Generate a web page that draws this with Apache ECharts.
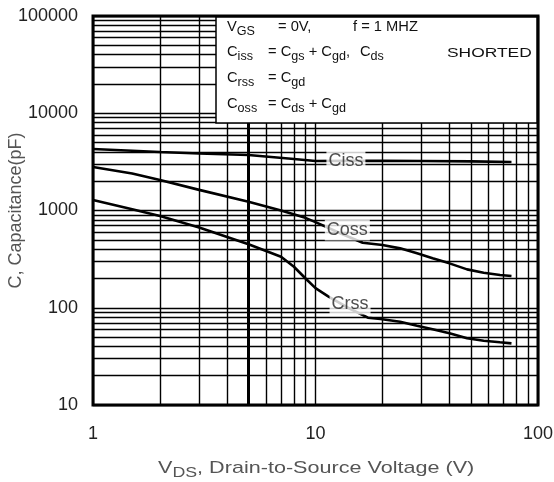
<!DOCTYPE html>
<html>
<head>
<meta charset="utf-8">
<script src="https://cdn.jsdelivr.net/npm/echarts@6/dist/echarts.min.js"></script>
<style>html,body{margin:0;padding:0;background:#fff}#c{width:554px;height:482px}</style>
</head>
<body>
<div id="c"></div>
<script>
// ---- data ----
const xMinorGrid = [2, 3, 4, 6, 7, 8, 9, 20, 30, 40, 50, 60, 70, 80, 90];
const xBoldGrid = [5];
const yMinorGrid = [20, 30, 40, 50, 60, 70, 80, 90,
  200, 300, 400, 500, 600, 700, 800, 900,
  2000, 3000, 4000, 5000, 6000, 7000, 8000, 9000,
  20000, 30000, 40000, 50000, 60000, 70000, 80000, 90000];

const cissV = [1, 1.5, 2, 3, 5, 8, 10, 14, 20, 30, 50, 76];
const cissC = [4290, 4120, 4000, 3850, 3720, 3390, 3230, 3240, 3250, 3230, 3200, 3150];

const cossV = [1, 1.5, 2, 3, 5, 7, 9, 10, 13, 16.3, 20, 24, 28.6, 33.6, 40, 48, 57, 67.5, 76];
const cossC = [2800, 2400, 2060, 1630, 1230, 1000, 840, 760, 580, 466, 441, 408, 363, 322, 286, 248, 229, 217, 212];

const crssV = [1, 1.5, 2, 3, 5, 7, 8, 9, 10, 11.4, 14, 17.2, 19.6, 24, 28.6, 33.6, 40, 48, 57, 67.5, 76];
const crssC = [1280, 1030, 880, 670, 450, 335, 264, 201, 159, 131, 100, 79, 76.6, 71.9, 65.4, 60, 54.6, 48.5, 45.8, 44.1, 43];

const curveNames = ['Ciss', 'Coss', 'Crss'];
const labelV = [13.7, 13.9, 14.3];
const labelC = [3230, 630, 109];

const yAxisTitle = 'C, Capacitance(pF)';
const xAxisTitle = '{m|V}{s|DS}{m|, Drain-to-Source Voltage (V)}';
const boxTexts = [
  ['{m|V}{s|GS}', '{m|= 0V,}', '{m|f = 1 MHZ}'],
  ['{m|C}{s|iss}', '{m|= C}{s|gs}{m| + C}{s|gd}{m|,}', '{m|C}{s|ds}', 'SHORTED'],
  ['{m|C}{s|rss}', '{m|= C}{s|gd}'],
  ['{m|C}{s|oss}', '{m|= C}{s|ds}{m| + C}{s|gd}']
];

// ---- chart ----
const zip = (a, b) => a.map((v, i) => [v, b[i]]);
const chart = echarts.init(document.getElementById('c'), null, {renderer: 'canvas'});

const boxRich = {
  m: {fontSize: 14, fontFamily: 'Liberation Sans', color: '#111'},
  s: {fontSize: 12, fontFamily: 'Liberation Sans', color: '#111', padding: [10, 0, 0, 0]}
};
const colX = [[227, 278, 353], [227, 268, 360, 447], [227, 268], [227, 268]];
const rowY = [27, 52, 78, 104];
const boxChildren = [{
  type: 'rect', z: 100, shape: {x: 216, y: 17, width: 321, height: 106},
  style: {fill: '#fff', stroke: '#000', lineWidth: 1.5}
}];
boxTexts.forEach((row, r) => {
  row.forEach((t, c) => {
    const isPlain = t.indexOf('{') < 0;
    boxChildren.push({
      type: 'text', z: 101,
      x: colX[r][c], y: rowY[r] + (isPlain ? 2 : 0),
      scaleX: isPlain ? 1.45 : 1.05,
      style: isPlain
        ? {text: t, fontSize: 12, fontFamily: 'Liberation Sans', fill: '#111', verticalAlign: 'middle'}
        : {text: t, rich: boxRich, fontSize: 14, fontFamily: 'Liberation Sans', fill: '#111', verticalAlign: 'middle'}
    });
  });
});

const option = {
  animation: false,
  backgroundColor: '#fff',
  grid: {left: 93, right: 16, top: 16, bottom: 77, containLabel: false, outerBoundsMode: 'none',
    show: true, borderColor: '#000', borderWidth: 3, backgroundColor: 'transparent'},
  xAxis: {
    type: 'log', logBase: 10, min: 1, max: 100,
    axisLine: {show: false}, axisTick: {show: false},
    axisLabel: {fontSize: 18, fontFamily: 'Liberation Sans', color: '#222', margin: 20, formatter: v => String(v)},
    splitLine: {show: true, lineStyle: {color: '#000', width: 1.4}}
  },
  yAxis: {
    type: 'log', logBase: 10, min: 10, max: 100000,
    axisLine: {show: false}, axisTick: {show: false},
    axisLabel: {fontSize: 18, fontFamily: 'Liberation Sans', color: '#222', margin: 15, formatter: v => String(v)},
    splitLine: {show: true, lineStyle: {color: '#000', width: 1.4}},
    name: yAxisTitle, nameLocation: 'middle', nameRotate: 90, nameGap: 68, nameMoveOverlap: false,
    nameTextStyle: {fontSize: 18, fontFamily: 'Liberation Sans', color: '#555'}
  },
  series: [
    {
      type: 'line', data: [[1, 10]], symbol: 'none', lineStyle: {width: 0}, z: 1, silent: true,
      markLine: {
        silent: true, symbol: 'none', label: {show: false}, animation: false,
        lineStyle: {color: '#000', width: 1.4, type: 'solid'},
        data: [
          ...xMinorGrid.map(v => ({xAxis: v})),
          ...yMinorGrid.map(v => ({yAxis: v})),
          ...xBoldGrid.map(v => ({xAxis: v, lineStyle: {color: '#000', width: 3, type: 'solid'}}))
        ]
      }
    },
    {type: 'line', name: 'Ciss', data: zip(cissV, cissC), symbol: 'none', lineStyle: {color: '#000', width: 2.6}, z: 3},
    {type: 'line', name: 'Coss', data: zip(cossV, cossC), symbol: 'none', lineStyle: {color: '#000', width: 2.6}, z: 3},
    {type: 'line', name: 'Crss', data: zip(crssV, crssC), symbol: 'none', lineStyle: {color: '#000', width: 2.6}, z: 3},
    {
      type: 'scatter', z: 5, symbolSize: 1, itemStyle: {color: 'rgba(0,0,0,0)'}, silent: true,
      data: curveNames.map((n, i) => ({name: n, value: [labelV[i], labelC[i]]})),
      label: {
        show: true, position: 'inside', formatter: p => p.name,
        fontSize: 18, fontFamily: 'Liberation Sans', color: '#222',
        backgroundColor: '#fff', padding: [2, 2, 1, 2]
      }
    }
  ],
  graphic: [
    {type: 'group', z: 100, children: boxChildren},
    {
      type: 'text', z: 100, x: 158, y: 468, scaleX: 1.27,
      style: {
        text: xAxisTitle, verticalAlign: 'middle', fill: '#555',
        fontSize: 17, fontFamily: 'Liberation Sans',
        rich: {
          m: {fontSize: 17, fontFamily: 'Liberation Sans', color: '#555'},
          s: {fontSize: 14, fontFamily: 'Liberation Sans', color: '#555', padding: [10, 0, 0, 0]}
        }
      }
    }
  ]
};
chart.setOption(option);
</script>
</body>
</html>
